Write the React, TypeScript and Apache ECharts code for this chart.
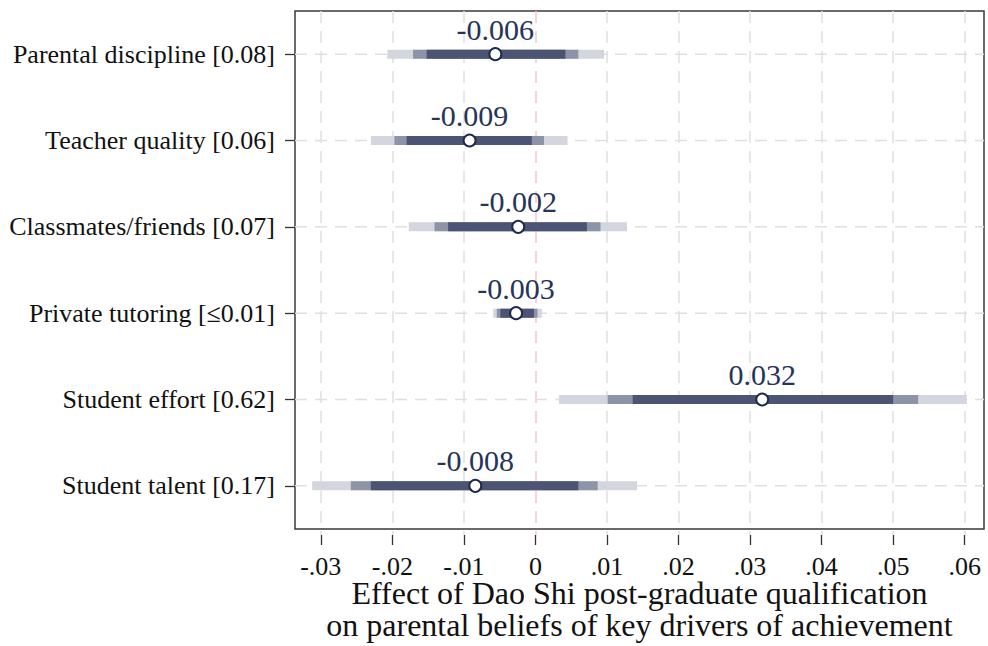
import React, { useEffect, useRef } from "react";
import * as echarts from "echarts";

// ---- Data ----
const categories = [
  "Parental discipline [0.08]",
  "Teacher quality [0.06]",
  "Classmates/friends [0.07]",
  "Private tutoring [≤0.01]",
  "Student effort [0.62]",
  "Student talent [0.17]",
];
const estimates = [-0.0056, -0.0092, -0.0024, -0.0027, 0.0317, -0.0084];
// widest interval (lightest bar)
const ciOuterLo = [-0.0207, -0.023, -0.0177, -0.0059, 0.0033, -0.0312];
const ciOuterHi = [0.0096, 0.0045, 0.0128, 0.0009, 0.0603, 0.0142];
// middle interval
const ciMidLo = [-0.0171, -0.0197, -0.0141, -0.0054, 0.0101, -0.0258];
const ciMidHi = [0.006, 0.0012, 0.0091, 0.0003, 0.0535, 0.0087];
// narrowest interval (darkest bar)
const ciInnerLo = [-0.0152, -0.018, -0.0122, -0.0049, 0.0136, -0.023];
const ciInnerHi = [0.0042, -0.0005, 0.0072, -0.0002, 0.05, 0.006];

const xTickMin = -0.03;
const xTickMax = 0.06;
const xTickStep = 0.01;
const frameMin = -0.0336;
const frameMax = 0.0627;
const xTitle =
  "Effect of Dao Shi post-graduate qualification\non parental beliefs of key drivers of achievement";

export default function App() {
  const ref = useRef<HTMLDivElement>(null);

  useEffect(() => {
    document.body.style.margin = "0";
    const chart = echarts.init(ref.current!, null, { renderer: "svg" });

    const L = 295;
    const T = 11;
    const W = 689;
    const H = 524;
    const px = (v: number) => L + ((v - frameMin) / (frameMax - frameMin)) * W;
    const innerLeft = px(xTickMin);
    const innerRight = 988 - px(xTickMax);

    const serif = "'Liberation Serif', 'Times New Roman', serif";
    const fmt = (v: number) => {
      if (Math.abs(v) < 1e-9) return "0";
      const s = (Math.round(v * 100) / 100).toString();
      return s.replace(/^(-?)0\./, "$1.");
    };
    const nTicks = Math.round((xTickMax - xTickMin) / xTickStep) + 1;
    const splitColors = Array.from({ length: nTicks }, (_, i) =>
      Math.abs(xTickMin + i * xTickStep) < 1e-9 ? "#f2c6cf" : "#e0e0e0"
    );

    // columns: estimate, outerLo, outerHi, midLo, midHi, innerLo, innerHi, row index
    const rows = categories.map((_, i) => [
      estimates[i],
      ciOuterLo[i],
      ciOuterHi[i],
      ciMidLo[i],
      ciMidHi[i],
      ciInnerLo[i],
      ciInnerHi[i],
      i,
    ]);

    const barH = 9;
    const renderItem = (params: any, api: any) => {
      const idx = api.value(7);
      const cs = params.coordSys;
      const pt = (v: number) => api.coord([v, idx]);
      const [cx, cy] = pt(api.value(0));
      const bar = (lo: number, hi: number, color: string) => {
        const a = pt(lo)[0];
        const b = pt(hi)[0];
        return {
          type: "rect",
          shape: { x: a, y: cy - barH / 2, width: b - a, height: barH },
          style: { fill: color },
        };
      };
      return {
        type: "group",
        children: [
          {
            type: "line",
            shape: { x1: cs.x, y1: cy, x2: cs.x + cs.width, y2: cy },
            style: { stroke: "#e0e0e0", lineWidth: 1.5, lineDash: [12, 8] },
          },
          bar(api.value(1), api.value(2), "#d3d6df"),
          bar(api.value(3), api.value(4), "#8e94a8"),
          bar(api.value(5), api.value(6), "#4b5573"),
          {
            type: "circle",
            shape: { cx, cy, r: 6 },
            style: { fill: "#ffffff", stroke: "#1f2b4d", lineWidth: 2 },
          },
          {
            type: "text",
            style: {
              text: api.value(0).toFixed(3),
              x: cx,
              y: cy - 25,
              align: "center",
              verticalAlign: "middle",
              fontSize: 30,
              fontFamily: serif,
              fill: "#26345a",
            },
          },
        ],
      };
    };

    chart.setOption({
      animation: false,
      grid: [
        {
          left: L,
          top: T,
          width: W,
          height: H,
          show: true,
          borderColor: "#3a3a3a",
          borderWidth: 1.5,
          containLabel: false,
        },
        {
          left: innerLeft,
          right: innerRight,
          top: T,
          height: H,
          containLabel: false,
        },
      ],
      xAxis: [
        {
          gridIndex: 0,
          type: "value",
          min: frameMin,
          max: frameMax,
          axisLine: { show: false, onZero: false },
          axisTick: { show: false },
          axisLabel: { show: false },
          splitLine: { show: false },
          name: xTitle,
          nameLocation: "middle",
          nameGap: 48,
          nameTextStyle: {
            fontSize: 32,
            lineHeight: 32,
            fontFamily: serif,
            color: "#111",
          },
        },
        {
          gridIndex: 1,
          type: "value",
          min: xTickMin,
          max: xTickMax,
          interval: xTickStep,
          axisLine: { show: false, onZero: false },
          axisTick: {
            show: true,
            length: 10,
            lineStyle: { color: "#333", width: 1.3 },
          },
          axisLabel: {
            margin: 18,
            formatter: fmt,
            fontSize: 26,
            fontFamily: serif,
            color: "#111",
          },
          splitLine: {
            show: true,
            lineStyle: { color: splitColors, type: [12, 8], width: 1.5 },
          },
        },
      ],
      yAxis: [
        {
          gridIndex: 0,
          type: "category",
          data: categories,
          inverse: true,
          axisLine: { show: false, onZero: false },
          axisTick: {
            show: true,
            alignWithLabel: true,
            length: 10,
            lineStyle: { color: "#333", width: 1.3 },
          },
          axisLabel: {
            margin: 20,
            fontSize: 26,
            fontFamily: serif,
            color: "#111",
          },
          splitLine: { show: false },
        },
        {
          gridIndex: 1,
          type: "category",
          data: categories,
          inverse: true,
          show: false,
          axisLine: { show: false, onZero: false },
          axisTick: { show: false },
          axisLabel: { show: false },
          splitLine: { show: false },
        },
      ],
      series: [
        {
          type: "custom",
          xAxisIndex: 0,
          yAxisIndex: 0,
          data: rows,
          encode: { x: [0, 1, 2, 3, 4, 5, 6], y: 7 },
          renderItem,
          z: 5,
        },
      ],
    });

    return () => chart.dispose();
  }, []);

  return <div ref={ref} style={{ width: 988, height: 646 }} />;
}
